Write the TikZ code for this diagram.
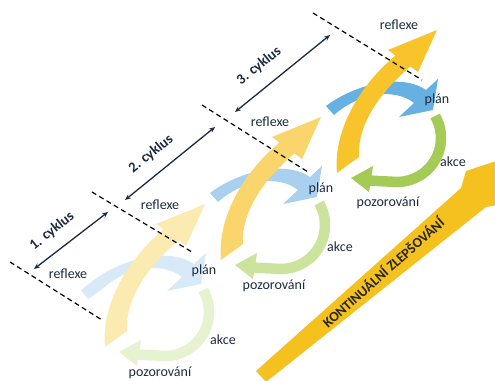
\documentclass[tikz,border=0pt]{standalone}
\usepackage{fontspec}
\setmainfont{Carlito}
\usetikzlibrary{arrows.meta}
\definecolor{txt}{HTML}{1C2B40}
\definecolor{cAblue}{HTML}{D8EAF7}
\definecolor{cAgreen}{HTML}{E7F2D0}
\definecolor{cAyellow}{HTML}{FCEBB0}
\definecolor{cBblue}{HTML}{A9D1EF}
\definecolor{cBgreen}{HTML}{CBE39D}
\definecolor{cByellow}{HTML}{FAD56C}
\definecolor{cCblue}{HTML}{66B0E2}
\definecolor{cCgreen}{HTML}{A3CB55}
\definecolor{cCyellow}{HTML}{F8C42C}
\definecolor{bigyellow}{HTML}{F5C11E}
\tikzset{
  lbl/.style={text=txt, inner sep=0pt, font=\fontsize{14}{16}\selectfont},
  cyclbl/.style={text=txt, inner sep=0pt, font=\bfseries\fontsize{14.5}{16}\selectfont, rotate=39},
  sepline/.style={black, line width=1.2pt, dash pattern=on 5pt off 3.5pt},
  dimline/.style={txt, line width=1.3pt, {Stealth[length=6pt,width=5pt]}-{Stealth[length=6pt,width=5pt]}},
}
\newcommand{\cyclearrows}[5]{%
\begin{scope}[shift={(#1,#2)}]
 \fill[#3] (326,106) .. controls (352,86) and (400,72) .. (426,90) -- (438,79) -- (433,110) -- (399,117) -- (414,103) .. controls (395,88) and (360,92) .. (334,115) -- cycle;
 \draw[#4, line width=10.5pt] (435.1,116) arc[start angle=-30, end angle=90, radius=44] -- (368,180.5);
 \fill[#4] (373,166) -- (351,178) -- (369,192) -- cycle;
 \fill[#5] (337,173) .. controls (333,130) and (360,85) .. (395.5,55.5) -- (388,50) -- (437,30) -- (418,72) -- (410.5,66.5) .. controls (380,92) and (357,125) .. (359,157) -- cycle;
\end{scope}}
\begin{document}
\begin{tikzpicture}[x=1pt,y=-1pt]
\useasboundingbox (0,0) rectangle (495,380);
\fill[white] (0,0) rectangle (495,380);
% big arrow
\fill[bigyellow] (256,371) -- (461,188) -- (466,171) -- (508,157) -- (502,204) -- (486,207) -- (266,382) -- cycle;
\node[text=black!85, inner sep=0pt, font=\bfseries\fontsize{14}{16}\selectfont, rotate=41.5] (big) at (383,272) {KONTINUÁLNÍ ZLEPŠOVÁNÍ};
% cycles
\begin{scope}[shift={(-232,174)}]
 \fill[cAblue] (326,106) -- (313,116) -- (320,125) -- (334,115) -- cycle;
\end{scope}
\cyclearrows{-232}{174}{cAblue}{cAgreen}{cAyellow}
\cyclearrows{-116}{87}{cBblue}{cBgreen}{cByellow}
\cyclearrows{0}{0}{cCblue}{cCgreen}{cCyellow}
% separators
\coordinate (d1a) at (10,262); \coordinate (d1b) at (102,320);
\coordinate (d2a) at (92,192); \coordinate (d2b) at (192,252);
\coordinate (d3a) at (202,105); \coordinate (d3b) at (308,172);
\coordinate (d4a) at (313,13); \coordinate (d4b) at (422,80);
\draw[sepline] (d1a) -- (d1b);
\draw[sepline] (d2a) -- (d2b);
\draw[sepline] (d3a) -- (d3b);
\draw[sepline] (d4a) -- (d4b);
% dimension arrows
\coordinate (a1a) at (34,269); \coordinate (a1b) at (108,212);
\coordinate (a2a) at (125,200); \coordinate (a2b) at (215,127);
\coordinate (a3a) at (235,112); \coordinate (a3b) at (330,35);
\draw[dimline] (a1a) -- (a1b);
\draw[dimline] (a2a) -- (a2b);
\draw[dimline] (a3a) -- (a3b);
\node[cyclbl] (cyk1) at (52,231) {1. cyklus};
\node[cyclbl] (cyk2) at (151,154) {2. cyklus};
\node[cyclbl] (cyk3) at (259,66) {3. cyklus};
% labels
\node[lbl] (r0) at (68,274) {reflexe};
\node[lbl] (r1) at (160,205) {reflexe};
\node[lbl] (r2) at (270,122) {reflexe};
\node[lbl] (r3) at (399,25) {reflexe};
\node[lbl] (p1) at (204,271) {plán};
\node[lbl] (p2) at (321,189) {plán};
\node[lbl] (p3) at (437,100) {plán};
\node[lbl] (k1) at (223,340) {akce};
\node[lbl] (k2) at (340,247) {akce};
\node[lbl] (k3) at (453,162) {akce};
\node[lbl] (o1) at (160,373) {pozorování};
\node[lbl] (o2) at (274,286) {pozorování};
\node[lbl] (o3) at (388,203) {pozorování};
\end{tikzpicture}
\end{document}
